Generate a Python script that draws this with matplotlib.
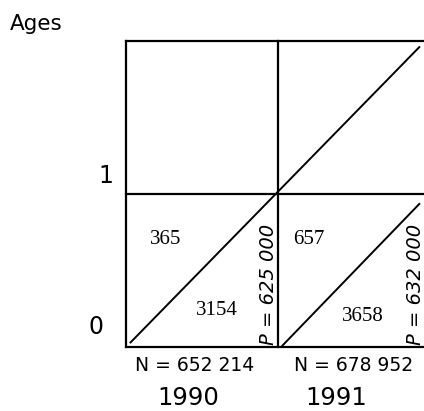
import matplotlib.pyplot as plt

# Lexis diagram data
years = [1990, 1991]
ages = [0, 1, 2]
age_labels = ['0', '1']
deaths_upper = [365, 657]     # upper triangles
deaths_lower = [3154, 3658]   # lower triangles
births = ['N = 652 214', 'N = 678 952']
pop_mid = ['P = 625 000', 'P = 632 000']

# cohort lifelines (year, age) start -> end
cohort_x = [[1990.03, 1991.93], [1991.03, 1991.93]]
cohort_y = [[0.03, 1.96], [0.01, 0.935]]

fig = plt.figure(figsize=(4.24, 4.11), dpi=100)
ax = fig.add_axes([0, 0, 1, 1])
ax.set_xlim(1989.171, 1991.961)
ax.set_ylim(-0.418, 2.268)
ax.axis('off')

lw = 1.6
x0, x1 = years[0], years[-1] + 1
# grid of the diagram
for a in ages:
    ax.plot([x0, x1], [a, a], color='black', lw=lw, solid_capstyle='projecting')
for y in years + [x1]:
    ax.plot([y, y], [ages[0], ages[-1]], color='black', lw=lw, solid_capstyle='projecting')

for cx, cy in zip(cohort_x, cohort_y):
    ax.plot(cx, cy, color='black', lw=1.4)

# texts
ax.text(1989.237, 2.07, 'Ages', fontsize=15.5, ha='left', va='baseline')
for i, lab in enumerate(age_labels):
    ax.text(1989.80 + 0.07 * i, 0.13 + 0.99 * i, lab, fontsize=17, ha='center', va='center')

for i, y in enumerate(years):
    ax.text(y + 0.26 - 0.06 * i, 0.70, str(deaths_upper[i]), fontsize=15, family='Liberation Serif',
            ha='center', va='center')
    ax.text(y + 0.60 - 0.04 * i, 0.24 - 0.04 * i, str(deaths_lower[i]), fontsize=15,
            family='Liberation Serif', ha='center', va='center')
    ax.text(y + 0.935 - 0.03 * i, 0.41, pop_mid[i], fontsize=14, style='italic', rotation=90,
            ha='center', va='center')
    ax.text(y + 0.45 + 0.05 * i, -0.118, births[i], fontsize=13.5, ha='center', va='center')
    ax.text(y + 0.41 - 0.03 * i, -0.33, str(y), fontsize=17.5, ha='center', va='center')

fig.savefig('out.png', dpi=100)
